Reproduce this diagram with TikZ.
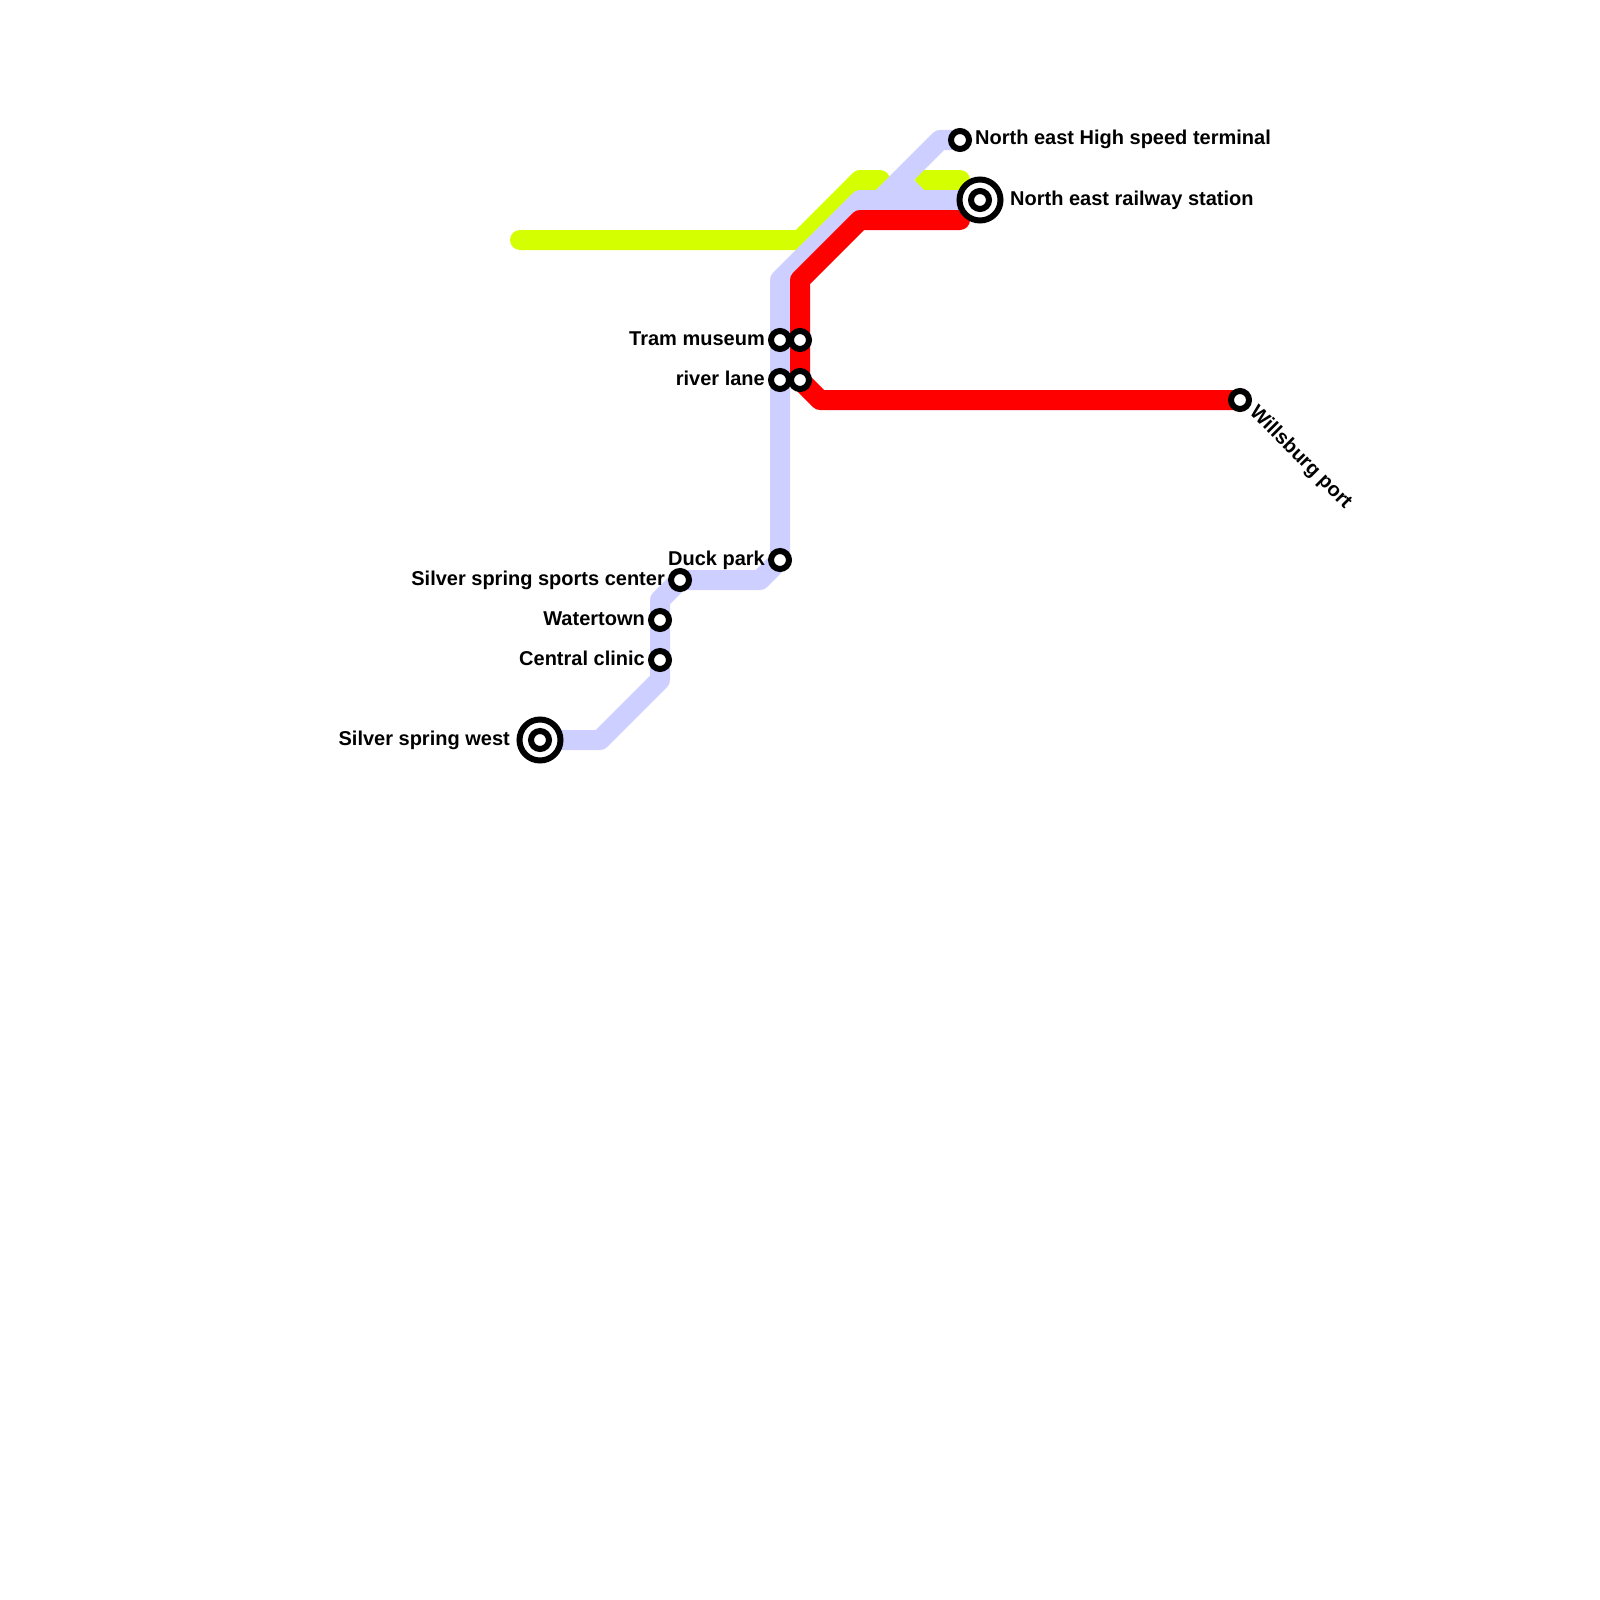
\documentclass[tikz,border=0pt]{standalone}
\usepackage{fontspec}
\setmainfont{Liberation Sans}
\usetikzlibrary{positioning,backgrounds}
\definecolor{limec}{HTML}{D4FF00}
\definecolor{bluec}{HTML}{CCCFFF}
\definecolor{redc}{HTML}{FF0000}

\begin{document}
\begin{tikzpicture}[x=1pt,y=-1pt,
    linec/.style={line width=20pt,line cap=round,line join=round},
    stop/.style={circle,draw=black,fill=white,line width=6pt,minimum size=18pt,inner sep=0pt,outer sep=0pt},
    bigstop/.style={circle,draw=black,fill=white,line width=6pt,minimum size=41pt,inner sep=0pt,outer sep=0pt},
    namec/.style={font=\fontsize{20}{22}\selectfont\bfseries,inner sep=0pt}]
  \useasboundingbox (0,0) rectangle (1600,1600);
  % stations
  \node[stop] (terminal) at (960,140) {};
  \node[bigstop] (railway) at (980,200) {};
  \node[stop] (railwayin) at (980,200) {};
  \node[stop] (tramb) at (780,340) {};
  \node[stop] (tramr) at (800,340) {};
  \node[stop] (riverb) at (780,380) {};
  \node[stop] (riverr) at (800,380) {};
  \node[stop] (port) at (1240,400) {};
  \node[stop] (duck) at (780,560) {};
  \node[stop] (sports) at (680,580) {};
  \node[stop] (water) at (660,620) {};
  \node[stop] (clinic) at (660,660) {};
  \node[bigstop] (west) at (540,740) {};
  \node[stop] (westin) at (540,740) {};
  % labels
  \node[namec, anchor=base west] (terminaln) at (975,145) {North east High speed terminal};
  \node[namec, anchor=base west] (railwayn) at (1010,205) {North east railway station};
  \node[namec, anchor=base east] (tramn) at (765,345) {Tram museum};
  \node[namec, anchor=base east] (rivern) at (765,385) {river lane};
  \node[namec, anchor=base east] (duckn) at (765,565) {Duck park};
  \node[namec, anchor=base east] (sportsn) at (665,585) {Silver spring sports center};
  \node[namec, anchor=base east] (watern) at (645,625) {Watertown};
  \node[namec, anchor=base east] (clinicn) at (645,665) {Central clinic};
  \node[namec, anchor=base east] (westn) at (510,745) {Silver spring west};
  \node[namec, anchor=north west, rotate=-45] (portn) at (1259,403) {Willsburg port};
  % lines
  \begin{pgfonlayer}{background}
    \coordinate (limestart) at (520,240);
    \coordinate (limeend) at (960,180);
    \draw[linec, draw=limec] (limestart) -- (800,240) -- (860,180) -- (880,180);
    \draw[linec, draw=limec] (925,180) -- (limeend);
    \draw[linec, draw=bluec] (west.center) -- (600,740) -- (660,680) -- (660,600) -- (680,580) -- (760,580) -- (780,560) -- (780,280) -- (860,200) -- (railway.center);
    \draw[linec, draw=bluec] (terminal.center) -- (940,140) -- (880,200);
    \draw[linec, draw=bluec] (900,180) -- (920,200);
    \coordinate (redend) at (960,220);
    \draw[linec, draw=redc] (redend) -- (860,220) -- (800,280) -- (800,380) -- (820,400) -- (port.center);
  \end{pgfonlayer}
\end{tikzpicture}
\end{document}
